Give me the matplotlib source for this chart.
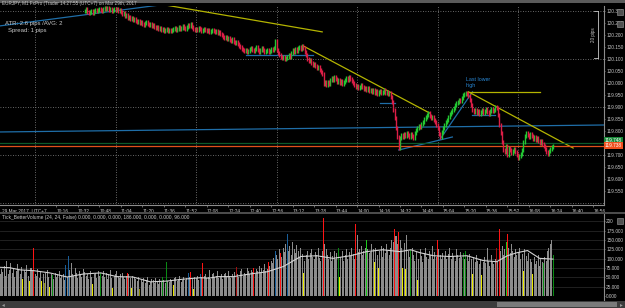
import matplotlib.pyplot as plt
import numpy as np
from matplotlib.patches import Rectangle

# bar index = minutes since 09:34 (UTC+7), one bar per minute
first_price_bar = 63
closes = [
    120.300, 120.308, 120.296, 120.292, 120.296, 120.300, 120.292, 120.300, 120.304, 120.300,
    120.304, 120.308, 120.304, 120.300, 120.308, 120.312, 120.308, 120.312, 120.304, 120.308,
    120.300, 120.304, 120.308, 120.304, 120.308, 120.300, 120.304, 120.296, 120.288, 120.292,
    120.279, 120.283, 120.271, 120.275, 120.267, 120.271, 120.263, 120.267, 120.258, 120.254,
    120.258, 120.250, 120.254, 120.246, 120.242, 120.250, 120.254, 120.246, 120.242, 120.246,
    120.238, 120.242, 120.233, 120.229, 120.233, 120.225, 120.229, 120.221, 120.225, 120.217,
    120.221, 120.225, 120.217, 120.221, 120.217, 120.221, 120.225, 120.229, 120.221, 120.225,
    120.233, 120.225, 120.229, 120.238, 120.229, 120.225, 120.233, 120.242, 120.238, 120.246,
    120.233, 120.225, 120.221, 120.225, 120.221, 120.229, 120.225, 120.217, 120.221, 120.225,
    120.221, 120.217, 120.221, 120.213, 120.217, 120.221, 120.217, 120.213, 120.217, 120.208,
    120.213, 120.204, 120.200, 120.192, 120.188, 120.192, 120.183, 120.188, 120.179, 120.175,
    120.183, 120.171, 120.167, 120.171, 120.163, 120.154, 120.150, 120.142, 120.138, 120.133,
    120.138, 120.129, 120.133, 120.142, 120.146, 120.138, 120.133, 120.142, 120.150, 120.138,
    120.129, 120.138, 120.146, 120.138, 120.129, 120.133, 120.138, 120.129, 120.133, 120.142,
    120.138, 120.146, 120.175, 120.138, 120.125, 120.117, 120.108, 120.104, 120.108, 120.100,
    120.104, 120.108, 120.117, 120.108, 120.125, 120.138, 120.129, 120.142, 120.133, 120.146,
    120.150, 120.142, 120.154, 120.146, 120.129, 120.117, 120.100, 120.092, 120.096, 120.083,
    120.075, 120.079, 120.071, 120.063, 120.067, 120.054, 120.046, 120.038, 119.996, 120.004,
    119.992, 120.004, 119.996, 120.013, 120.021, 120.013, 120.025, 120.017, 120.004, 120.013,
    120.000, 120.008, 119.996, 120.004, 120.013, 120.021, 120.013, 120.025, 120.017, 120.008,
    120.000, 119.992, 119.983, 119.988, 119.979, 119.983, 119.992, 119.983, 119.975, 119.979,
    119.971, 119.979, 119.967, 119.971, 119.963, 119.971, 119.958, 119.967, 119.954, 119.963,
    119.967, 119.958, 119.963, 119.971, 119.958, 119.963, 119.954, 119.958, 119.942, 119.921,
    119.888, 119.854, 119.813, 119.775, 119.729, 119.771, 119.783, 119.775, 119.788, 119.779,
    119.792, 119.783, 119.775, 119.788, 119.779, 119.771, 119.792, 119.804, 119.813, 119.821,
    119.817, 119.829, 119.838, 119.850, 119.858, 119.867, 119.875, 119.863, 119.854, 119.858,
    119.846, 119.838, 119.825, 119.813, 119.788, 119.775, 119.796, 119.813, 119.825, 119.838,
    119.846, 119.858, 119.871, 119.879, 119.888, 119.896, 119.908, 119.917, 119.921, 119.929,
    119.925, 119.938, 119.950, 119.954, 119.958, 119.954, 119.946, 119.929, 119.908, 119.888,
    119.879, 119.888, 119.875, 119.883, 119.871, 119.879, 119.888, 119.875, 119.883, 119.892,
    119.879, 119.871, 119.883, 119.892, 119.883, 119.888, 119.900, 119.896, 119.867, 119.825,
    119.792, 119.754, 119.721, 119.713, 119.738, 119.700, 119.729, 119.721, 119.708, 119.717,
    119.725, 119.713, 119.700, 119.688, 119.696, 119.704, 119.721, 119.754, 119.779, 119.792,
    119.783, 119.775, 119.788, 119.779, 119.767, 119.775, 119.763, 119.771, 119.758, 119.750,
    119.758, 119.746, 119.738, 119.725, 119.713, 119.704, 119.717, 119.725, 119.733, 119.738,
]
ask_price = 119.748

volumes = [
    58, 72, 65, 80, 55, 95, 60, 70, 88, 62, 75, 50, 66, 85, 72, 60, 78, 46, 70, 64, 82, 55, 39, 74, 68, 130,
    60, 55, 72, 48, 65, 39, 58, 35, 62, 70, 52, 25, 60, 56, 45, 62, 50, 58, 66, 48, 55, 60, 42, 83, 50, 108,
    70, 88, 60, 55, 75, 62, 48, 66, 58, 50, 72, 64, 55, 60, 45, 68, 52, 32, 58, 62, 48, 66, 55, 62,
    55, 68, 50, 62, 45, 58, 70, 48, 22, 55, 60, 66, 52, 48, 58, 62, 50, 45, 55, 63, 60, 48, 21, 55, 50,
    45, 40, 52, 19, 42, 38, 48, 35, 44, 50, 30, 38, 45, 42, 36, 48, 40, 33, 46, 38, 52, 42, 36, 91, 40,
    38, 45, 42, 30, 48, 52, 40, 46, 55, 38, 44, 50, 42, 48, 62, 50, 65, 45, 20, 52, 48, 55, 42, 60, 50,
    88, 55, 60, 48, 52, 70, 45, 58, 62, 50, 55, 66, 48, 52, 60, 45, 58, 62, 50, 68, 55, 48, 60, 52, 65, 78,
    60, 52, 68, 72, 55, 62, 58, 75, 66, 60, 70, 64, 75, 58, 72, 68, 80, 62, 75, 70, 85, 66, 72, 92,
    80, 95, 88, 102, 121, 110, 98, 125, 115, 105, 130, 118, 140, 167, 120, 135, 110, 145, 125, 115, 138, 120, 105, 128, 112,
    63, 95, 110, 120, 100, 115, 125, 105, 98, 118, 110, 130, 102, 95, 120, 210, 140, 125, 110, 100, 118, 95, 108, 122, 100,
    115, 128, 52, 105, 120, 95, 110, 125, 100, 118, 108, 130, 112, 100, 194, 165, 118, 125, 135, 110, 120, 130, 149, 125, 115,
    118, 140, 125, 90, 130, 110, 75, 120, 135, 105, 128, 115, 140, 120, 110, 130, 150, 145, 180, 160, 140, 173, 150, 130, 75,
    142, 73, 164,
    120, 105, 124, 130, 110, 95, 118, 43, 100, 125, 108, 92, 115, 130, 105, 98, 120, 110, 135, 100, 118, 105, 150, 125, 110, 98, 115,
    105, 120, 98, 112, 130, 100, 115, 108, 95, 125, 110, 102, 118, 105, 115, 100, 122, 108, 95, 112, 100, 59, 105, 90, 110,
    95, 85, 100, 57, 92, 105, 88, 130, 95, 80, 110, 90, 85, 100, 128,
    95, 180, 120, 135, 110, 125, 146, 167, 130, 115, 140, 120, 105, 125, 110,
    118, 130, 100, 112, 67, 125, 108, 95, 115, 100, 90, 59, 105, 85, 95, 110, 80, 100, 92, 88, 105, 95, 120, 130, 140, 150, 110,
]
climax_bars = [25, 95, 142, 151, 189, 200, 209, 241, 265, 294, 297, 326, 372, 378]
weak_climax_bars = [176, 370]
low_vol_bars = [17, 22, 31, 37, 69, 84, 98, 129, 144, 226, 253, 279, 282, 300, 302, 311, 352, 359, 390, 397]
dim_low_bars = [33, 104]
churn_bars = [39, 75, 121, 124, 252, 306, 345, 347, 405, 412]
strong_churn_bars = [273, 377]
climax_churn_bars = [49, 51, 140, 149, 205, 214]

ma_minutes = [0, 7, 15, 25, 37, 50, 62, 75, 87, 99, 112, 124, 136, 149, 156, 162, 174, 186, 199,
              211, 224, 236, 248, 261, 273, 285, 298, 306, 313, 323, 335, 348, 360, 370, 378, 385,
              393, 402, 412]
ma_values = [77, 76, 70, 68, 62, 51, 59, 62, 52, 51, 38, 40, 45, 49, 48, 52, 52, 59, 65,
             79, 106, 108, 101, 108, 119, 124, 119, 124, 116, 108, 106, 108, 95, 92, 108, 116,
             122, 101, 99]

# drawn objects: (minute0, price0, minute1, price1)
blue_lines = [(0, 119.796, 450, 119.825), (0, 120.238, 119, 120.325), (183, 120.117, 233, 120.117),
              (283, 119.917, 294, 119.917), (297, 119.721, 337, 119.775), (328, 119.767, 352, 119.963),
              (352, 119.867, 369, 119.867)]
yellow_lines = [(123, 120.325, 240, 120.213), (226, 120.154, 320, 119.875),
                (349, 119.963, 427, 119.729), (349, 119.963, 402, 119.963)]

# 119.750 sits under the price tags and is not visible
price_labels = ["120.300", "120.250", "120.200", "120.150", "120.100", "120.050", "120.000",
                "119.950", "119.900", "119.850", "119.800", "119.700", "119.650",
                "119.600", "119.550"]
grid_prices = [120.3, 120.1, 119.9, 119.7, 119.5]
vol_labels = ["0.000", "25.000", "50.000", "75.000", "100.000", "125.000", "150.000", "175.000", "200"]
time_labels = ["10:16", "10:32", "10:48", "11:04", "11:20", "11:36", "11:52", "12:08", "12:24",
               "12:40", "12:56", "13:12", "13:28", "13:44", "14:00", "14:16", "14:32", "14:48",
               "15:04", "15:20", "15:36", "15:52", "16:08", "16:24", "16:40", "16:56"]
hour_lines = ["10:00", "11:00", "12:00", "13:00", "14:00", "15:00", "16:00"]

W, H = 625, 308
bg = "#000000"
fg = "#c8c8c8"
up_col = "#22c832"
dn_col = "#dc1e46"
small = 3.4

plt.rcParams['font.family'] = 'Liberation Sans'


def minute(s):
    h, m = s.split(":")
    return int(h) * 60 + int(m) - (9 * 60 + 34)


def box(x0, y0, x1, y1):
    return [x0 / W, 1 - y1 / H, (x1 - x0) / W, (y1 - y0) / H]


fig = plt.figure(figsize=(W / 100, H / 100), dpi=100, facecolor=bg)

# ---------- price panel ----------
ax = fig.add_axes(box(0, 6, 604, 205), facecolor=bg)
ax.set_xlim(-0.1, 450)
ax.set_ylim(119.4917, 120.3208)

for hl in hour_lines:
    ax.axvline(minute(hl), color="#8a8a8a", lw=0.6, ls=(0, (1, 2)), zorder=0)
for gp in grid_prices:
    ax.axhline(gp, color="#8a8a8a", lw=0.6, ls=(0, (1, 2)), zorder=0)

for x0, y0, x1, y1 in blue_lines:
    ax.plot([x0, x1], [y0, y1], color="#1f6ea8", lw=0.9, zorder=1)
for x0, y0, x1, y1 in yellow_lines:
    ax.plot([x0, x1], [y0, y1], color="#b4b400", lw=0.9, zorder=1)
ax.axhline(ask_price, color="#0d5a2a", lw=0.9, zorder=1)
ax.axhline(closes[-1], color="#e0501c", lw=0.9, zorder=1)

t = np.arange(first_price_bar, first_price_bar + len(closes))
c = np.array(closes)
o = np.r_[c[0], c[:-1]]
wick = 0.007
up = c >= o
ax.vlines(t[up], np.minimum(o, c)[up] - wick, np.maximum(o, c)[up] + wick, color=up_col, lw=1.0, zorder=3)
ax.vlines(t[~up], np.minimum(o, c)[~up] - wick, np.maximum(o, c)[~up] + wick, color=dn_col, lw=1.0, zorder=3)

ax.text(347, 119.981, "Last lower\nhigh", color="#2a8ad8", fontsize=3.8, ha="left", va="bottom",
        linespacing=1.1, zorder=4)

for s in ["top", "left"]:
    ax.spines[s].set_visible(False)
for s in ["bottom", "right"]:
    ax.spines[s].set_color("#8c8c8c")
    ax.spines[s].set_linewidth(0.8)

ax.yaxis.tick_right()
ax.set_yticks([float(s) for s in price_labels], price_labels)
ax.tick_params(axis="y", colors="#8c8c8c", labelcolor=fg, labelsize=small, length=1.0, width=0.5, pad=0.5)
ax.set_xticks([minute(s) for s in time_labels], time_labels)
ax.tick_params(axis="x", colors="#8c8c8c", labelcolor=fg, labelsize=small, length=1.5, width=0.5, pad=1.2)
for lbl in ax.get_xticklabels():
    lbl.set_ha("left")
ax.text(0.003, -0.014, "29 Mar 2017, UTC+7", transform=ax.transAxes, color=fg, fontsize=small,
        ha="left", va="top")

yt = ax.get_yaxis_transform()
ax.text(1.0012, ask_price + 0.011, "119.748", transform=yt, color="white", fontsize=small,
        va="center", ha="left", clip_on=False, zorder=20,
        bbox=dict(boxstyle="square,pad=0.2", fc="#1a8a3a", ec="none"))
ax.text(1.0012, closes[-1], f"{closes[-1]:.3f}", transform=yt, color="white", fontsize=small,
        va="center", ha="left", clip_on=False, zorder=21,
        bbox=dict(boxstyle="square,pad=0.2", fc="#f0501e", ec="none"))

# ---------- volume panel ----------
axv = fig.add_axes(box(0, 214, 604, 300), facecolor=bg)
axv.set_xlim(-0.1, 450)
axv.set_ylim(-10.7, 220)
for lv in [25, 50, 75, 100, 125, 150, 175, 200]:
    axv.axhline(lv, color="#262626", lw=0.6, zorder=0)

vcol = ["#8c8c8c"] * len(volumes)
for idx_list, col in [(climax_bars, "#ff1414"), (weak_climax_bars, "#a01010"),
                      (low_vol_bars, "#e8e800"), (dim_low_bars, "#8a8a00"),
                      (churn_bars, "#0a8a14"), (strong_churn_bars, "#1ec81e"),
                      (climax_churn_bars, "#1a5f9a")]:
    for k in idx_list:
        vcol[k] = col
axv.bar(np.arange(len(volumes)), volumes, width=0.75, color=vcol, lw=0, zorder=2)
axv.plot(ma_minutes, ma_values, color="#d2d2d2", lw=0.8, zorder=3)

for s in ["top", "left", "bottom"]:
    axv.spines[s].set_visible(False)
axv.spines["right"].set_color("#8c8c8c")
axv.spines["right"].set_linewidth(0.8)
axv.set_xticks([])
axv.yaxis.tick_right()
axv.set_yticks([float(s) for s in vol_labels], vol_labels)
axv.tick_params(axis="y", colors="#8c8c8c", labelcolor=fg, labelsize=small, length=1.0, width=0.5, pad=0.5)

# ---------- window chrome and overlays ----------
fig.patches.append(Rectangle((0, 1 - 2.5 / H), 1, 2.5 / H, transform=fig.transFigure,
                             fc="#5a5a5a", ec="none", zorder=0))
fig.text(2 / W, 1 - 4 / H, "EURJPY, M1 FxPro (Trader 14:27:55 (UTC+7) on Mar 29th, 2017",
         color=fg, fontsize=3.3, va="center", ha="left")
fig.text(5 / W, 1 - 24 / H, "ATR: 2.6 pips /AVG: 2", color=fg, fontsize=4.3, va="center", ha="left")
fig.text(8 / W, 1 - 30.5 / H, "Spread: 1 pips", color=fg, fontsize=4.3, va="center", ha="left")

# 20 pips ruler
fig.lines.append(plt.Line2D([598 / W, 598 / W], [1 - 11 / H, 1 - 58 / H], color=fg, lw=0.6,
                            transform=fig.transFigure))
for yy in [11, 58]:
    fig.lines.append(plt.Line2D([594 / W, 598 / W], [1 - yy / H, 1 - yy / H], color=fg, lw=0.6,
                                transform=fig.transFigure))
fig.text(593 / W, 1 - 35 / H, "20 pips", color=fg, fontsize=3.3, rotation=90,
         va="center", ha="center")

# separator between panels
fig.patches.append(Rectangle((0, 1 - 214 / H), 1, 1.6 / H, transform=fig.transFigure,
                             fc="#4b4b4b", ec="none"))
fig.text(2 / W, 1 - 217.5 / H,
         "Tick_BetterVolume (24, 24, False) 0.000, 0.000, 0.000, 186.000, 0.000, 0.000, 96.000",
         color=fg, fontsize=3.5, va="center", ha="left")

# panel icons at the right
for yy in [12, 24, 221]:
    fig.patches.append(Rectangle((617 / W, 1 - (yy + 3) / H), 6 / W, 6 / H, transform=fig.transFigure,
                                 fc="#505050", ec="#9a9a9a", lw=0.4, zorder=30))

# scrollbar
fig.patches.append(Rectangle((0, 0), 1, 7.5 / H, transform=fig.transFigure, fc="#3c3c3c", ec="none"))
fig.patches.append(Rectangle((497 / W, 1.5 / H), 120 / W, 4.5 / H, transform=fig.transFigure,
                             fc="#7a7a7a", ec="none"))
fig.text(2 / W, 3.8 / H, "◂", color="#9a9a9a", fontsize=4, family="DejaVu Sans", va="center", ha="left")
fig.text(623 / W, 3.8 / H, "▸", color="#9a9a9a", fontsize=4, family="DejaVu Sans", va="center", ha="right")

fig.savefig("out.png", dpi=100, facecolor=bg)
